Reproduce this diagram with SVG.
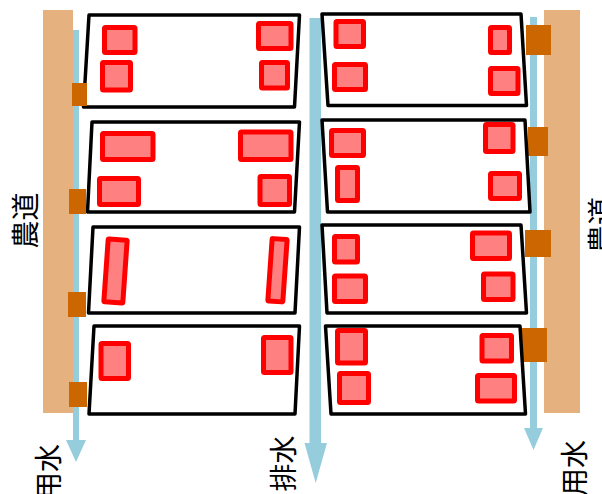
<svg xmlns="http://www.w3.org/2000/svg" width="602" height="494" viewBox="0 0 602 494">
<style>
.road{fill:#e5b27f}
.water{fill:#95cddd}
.field{fill:#fff;stroke:#000;stroke-width:3.500;stroke-linejoin:round}
.plot{fill:#ff8080;stroke:#f00;stroke-width:5;stroke-linejoin:round}
.gate{fill:#cc6600}
.lbl{font-family:"Noto Sans CJK JP","Noto Sans CJK SC",sans-serif;font-size:28px;fill:#000;text-anchor:middle;dominant-baseline:central}
</style>
<rect width="602" height="494" fill="#fff"/>
<g id="roads">
<rect class="road" x="43" y="10" width="30" height="403"/>
<rect class="road" x="544" y="10" width="36" height="403"/>
</g>
<g id="connectors">
<rect class="water" x="73" y="30" width="6" height="412"/>
<polygon class="water" points="66,440 86,440 76,462"/>
<rect class="water" x="309.500" y="18" width="11.500" height="427"/>
<polygon class="water" points="304.500,443 327,443 315.700,483"/>
<rect class="water" x="530" y="17" width="7" height="413"/>
<polygon class="water" points="524,428 543,428 533.500,450"/>
</g>
<g id="gates-right">
<rect id="gate-r1" class="gate" x="526" y="25" width="25" height="30"/>
<rect id="gate-r2" class="gate" x="528" y="127" width="20" height="29"/>
<rect id="gate-r3" class="gate" x="525" y="230" width="26" height="27"/>
<rect id="gate-r4" class="gate" x="522" y="328" width="25" height="34"/>
</g>
<g id="field-l1">
<polygon class="field" points="89,15 299.500,15 294.500,107 83.500,107"/>
<rect class="plot" x="104.500" y="27.500" width="30.500" height="25" rx="1"/>
<rect class="plot" x="258.500" y="23.500" width="32.500" height="25" rx="1"/>
<rect class="plot" x="102.500" y="62.500" width="28" height="27.500" rx="1"/>
<rect class="plot" x="261.500" y="62.500" width="26" height="25.500" rx="1"/>
</g>
<g id="field-l2">
<polygon class="field" points="92,122 299.500,122 294.500,212 87.500,212"/>
<rect class="plot" x="102.500" y="133.500" width="50.500" height="26" rx="1"/>
<rect class="plot" x="240.500" y="132" width="50.500" height="27.500" rx="1"/>
<rect class="plot" x="99.500" y="178.500" width="39" height="26" rx="1"/>
<rect class="plot" x="260" y="176.500" width="29.500" height="28" rx="1"/>
</g>
<g id="field-l3">
<polygon class="field" points="93,227 299.500,227 295,313 88.500,313"/>
<rect class="plot" x="106" y="239.500" width="19" height="63" rx="1" transform="rotate(4 115.500 271)"/>
<rect class="plot" x="270" y="239" width="15" height="62.500" rx="1" transform="rotate(4 277.500 270)"/>
</g>
<g id="field-l4">
<polygon class="field" points="94,326 299.500,326 295,414 89,414"/>
<rect class="plot" x="101" y="343.500" width="27.500" height="35" rx="1"/>
<rect class="plot" x="263.500" y="337.500" width="27.500" height="35" rx="1"/>
</g>
<g id="gates-left">
<rect id="gate-l1" class="gate" x="72" y="83" width="15" height="23"/>
<rect id="gate-l2" class="gate" x="69" y="189" width="17" height="25"/>
<rect id="gate-l3" class="gate" x="68" y="292" width="18" height="25"/>
<rect id="gate-l4" class="gate" x="69" y="382" width="18" height="25"/>
</g>
<g id="field-r1">
<polygon class="field" points="322,14 521,14 526.500,105.500 328,105.500"/>
<rect class="plot" x="336" y="21.500" width="27.500" height="25" rx="1"/>
<rect class="plot" x="490.500" y="27.500" width="19" height="25" rx="1"/>
<rect class="plot" x="334.500" y="64.500" width="31" height="25" rx="1"/>
<rect class="plot" x="490.500" y="68.500" width="27.500" height="25" rx="1"/>
</g>
<g id="field-r2">
<polygon class="field" points="322,120 525,120 530,212 327.500,212"/>
<rect class="plot" x="331.500" y="130.500" width="32" height="25" rx="1"/>
<rect class="plot" x="485.500" y="124.500" width="27.500" height="27" rx="1"/>
<rect class="plot" x="337.500" y="167.500" width="20" height="33" rx="1"/>
<rect class="plot" x="490.500" y="173.500" width="29" height="25" rx="1"/>
</g>
<g id="field-r3">
<polygon class="field" points="322,225 521,225 526.500,313 327,313"/>
<rect class="plot" x="334.500" y="236.500" width="23" height="25.500" rx="1"/>
<rect class="plot" x="472.500" y="233" width="37" height="25.500" rx="1"/>
<rect class="plot" x="334.500" y="276" width="31" height="25.500" rx="1"/>
<rect class="plot" x="483.500" y="274" width="29.500" height="25.500" rx="1"/>
</g>
<g id="field-r4">
<polygon class="field" points="325.500,326 520,326 525.500,414 331,414"/>
<rect class="plot" x="337.500" y="330.500" width="28" height="32.500" rx="1"/>
<rect class="plot" x="482" y="335.500" width="29.500" height="25.500" rx="1"/>
<rect class="plot" x="339.500" y="373.500" width="29" height="29" rx="1"/>
<rect class="plot" x="477.500" y="375.500" width="37" height="25.500" rx="1"/>
</g>
<g id="labels">
<text class="lbl" transform="translate(23.500 220.500) rotate(-90)">農道</text>
<text class="lbl" transform="translate(47 472) rotate(-90)">用水</text>
<text class="lbl" transform="translate(282 463.500) rotate(-90)">排水</text>
<text class="lbl" transform="translate(573 468) rotate(-90)">用水</text>
<text class="lbl" transform="translate(600 225) rotate(-90)">農道</text>
</g>
</svg>
